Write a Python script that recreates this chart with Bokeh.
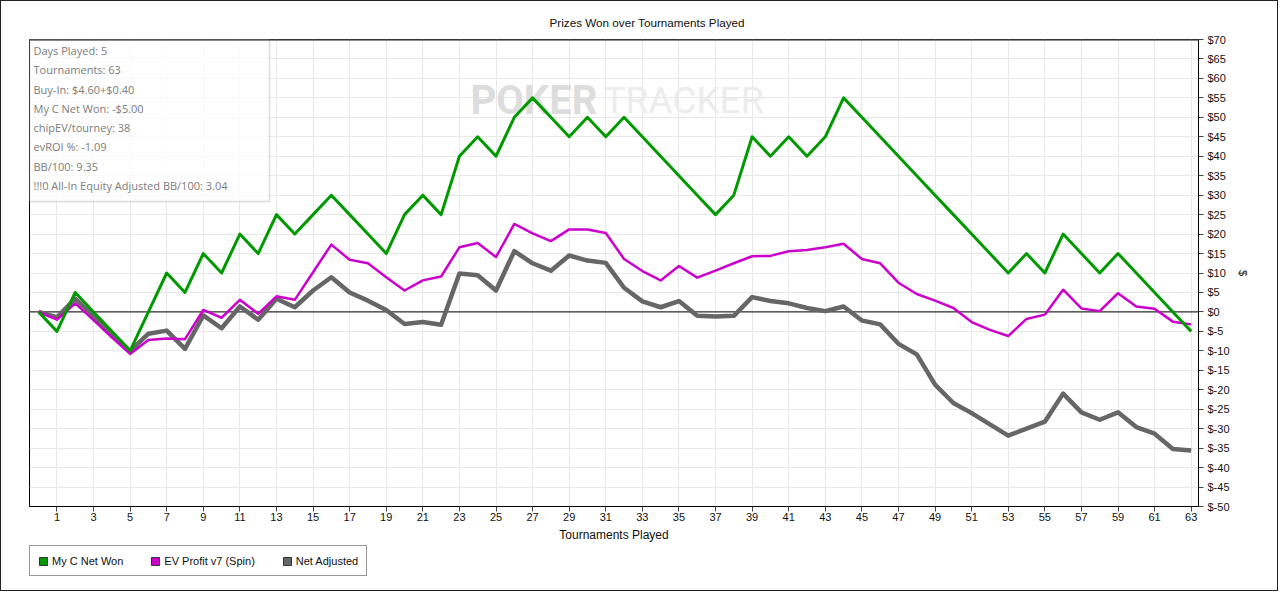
from bokeh.plotting import figure
from bokeh.layouts import column
from bokeh.models import (Range1d, FixedTicker, Span, Label, BoxAnnotation,
                          Legend, LegendItem)
from bokeh.embed import file_html
from bokeh.resources import INLINE

# ---------------- data ----------------
tournaments = list(range(64))

my_c_net_won = [0, -5, 5, 0, -5, -10, 0, 10, 5, 15,
                10, 20, 15, 25, 20, 25, 30, 25, 20, 15,
                25, 30, 25, 40, 45, 40, 50, 55, 50, 45,
                50, 45, 50, 45, 40, 35, 30, 25, 30, 45,
                40, 45, 40, 45, 55, 50, 45, 40, 35, 30,
                25, 20, 15, 10, 15, 10, 20, 15, 10, 15,
                10, 5, 0, -5]

ev_profit = [0, -2.0, 2.2, -2.1, -6.5, -10.8, -7.2, -6.8, -7.0, 0.5,
             -1.5, 3.1, -0.5, 4.0, 3.1, 10.2, 17.3, 13.4, 12.5, 8.9,
             5.5, 8.1, 9.1, 16.6, 17.7, 14.1, 22.6, 20.2, 18.2, 21.2,
             21.2, 20.3, 13.6, 10.5, 8.1, 11.8, 8.8, 10.6, 12.5, 14.3,
             14.4, 15.6, 15.9, 16.6, 17.5, 13.6, 12.5, 7.5, 4.6, 2.9,
             1.0, -2.6, -4.6, -6.2, -1.8, -0.7, 5.7, 0.9, 0.2, 4.8,
             1.4, 0.8, -2.5, -3.2]

net_adjusted = [0, -1.4, 3.4, -1.1, -5.6, -10.1, -5.6, -4.8, -9.5, -0.9,
                -4.2, 1.4, -2.0, 3.4, 1.2, 5.5, 8.9, 5.0, 2.9, 0.5,
                -3.1, -2.6, -3.3, 9.9, 9.4, 5.5, 15.6, 12.5, 10.6, 14.5,
                13.2, 12.6, 6.2, 2.7, 1.2, 2.8, -1.0, -1.2, -1.0, 3.8,
                2.8, 2.2, 1.0, 0.2, 1.4, -2.2, -3.2, -8.2, -10.9, -18.7,
                -23.4, -26.0, -28.9, -31.8, -30.0, -28.2, -21.0, -25.8, -27.7, -25.8,
                -29.6, -31.3, -35.2, -35.6]

series_names = ["My C Net Won", "EV Profit v7 (Spin)", "Net Adjusted"]
series_colors = ["#009a00", "#cc00cc", "#666666"]

x_ticks = list(range(1, 64, 2))
y_ticks = list(range(-50, 71, 5))
y_tick_labels = {v: f"${v}" for v in y_ticks}

title_text = "Prizes Won over Tournaments Played"
x_label = "Tournaments Played"
y_label = "$"

info_lines = ["Days Played: 5",
              "Tournaments: 63",
              "Buy-In: $4.60+$0.40",
              "My C Net Won: -$5.00",
              "chipEV/tourney: 38",
              "evROI %: -1.09",
              "BB/100: 9.35",
              "!!!0 All-In Equity Adjusted BB/100: 3.04"]

FONT = "Liberation Sans"
BORDER = "1px solid #222"

# ---------------- main figure ----------------
p = figure(width=1278, height=545,
           x_range=Range1d(-0.5, 63.4), y_range=Range1d(-50, 70),
           y_axis_location="right",
           output_backend="svg", toolbar_location=None,
           min_border_left=28, min_border_right=81,
           min_border_top=38, min_border_bottom=40)
p.styles = {"border": BORDER, "border-bottom": "none"}
p.background_fill_color = "white"
p.border_fill_color = "white"
p.outline_line_color = "black"
p.outline_line_width = 1

# title
p.title.text = title_text
p.title.align = "left"
p.title.offset = 520
p.title.standoff = 22
p.title.text_font = FONT
p.title.text_font_size = "11.7px"
p.title.text_font_style = "normal"
p.title.text_color = "#111111"

# axes
xa = p.xaxis[0]
xa.ticker = FixedTicker(ticks=x_ticks)
xa.axis_label = x_label
xa.axis_label_text_font = FONT
xa.axis_label_text_font_size = "12px"
xa.axis_label_text_font_style = "normal"
xa.axis_label_text_color = "#111111"
xa.axis_label_standoff = 4
xa.major_label_text_font = FONT
xa.major_label_text_font_size = "11px"
xa.major_label_text_color = "#111111"
xa.major_label_standoff = 1
xa.major_tick_in = 0
xa.major_tick_out = 5
xa.minor_tick_out = 0
xa.minor_tick_in = 0
xa.axis_line_color = "black"
xa.major_tick_line_color = "#444444"

ya = p.yaxis[0]
ya.ticker = FixedTicker(ticks=y_ticks)
ya.major_label_overrides = y_tick_labels
ya.axis_label = y_label
ya.axis_label_text_font = FONT
ya.axis_label_text_font_size = "11px"
ya.axis_label_text_font_style = "normal"
ya.axis_label_text_color = "#111111"
ya.axis_label_standoff = 4
ya.major_label_text_font = FONT
ya.major_label_text_font_size = "11px"
ya.major_label_text_color = "#111111"
ya.major_label_standoff = 4
ya.major_tick_in = 0
ya.major_tick_out = 5
ya.minor_tick_out = 0
ya.minor_tick_in = 0
ya.axis_line_color = "black"
ya.major_tick_line_color = "#444444"

p.xgrid.grid_line_color = "#e8e8e8"
p.ygrid.grid_line_color = "#e8e8e8"

# watermark
p.add_layout(Label(x=441, y=406, x_units="screen", y_units="screen",
                   text="POKER", text_font="Roboto", text_font_size="40px",
                   text_font_style="bold", text_color="#dddddd",
                   text_baseline="alphabetic", level="underlay"))
p.add_layout(Label(x=574, y=406, x_units="screen", y_units="screen",
                   text="TRACKER", text_font="Roboto", text_font_size="37px",
                   text_color="#ececec",
                   text_baseline="alphabetic", level="underlay"))

# zero line
p.add_layout(Span(location=0, dimension="width", line_color="black",
                  line_width=1, level="underlay"))

# series
series_values = [my_c_net_won, ev_profit, net_adjusted]
widths = [3, 2.5, 4.5]
for idx in [2, 1, 0]:
    p.line(tournaments, series_values[idx], line_color=series_colors[idx],
           line_width=widths[idx], line_join="round")

# top border of plot area
p.add_layout(Span(location=70, dimension="width", line_color="#666666",
                  line_width=2.5, level="overlay"))

# info box
p.add_layout(BoxAnnotation(left=0, right=240, top=467, bottom=305,
                           left_units="screen", right_units="screen",
                           top_units="screen", bottom_units="screen",
                           fill_color="white", fill_alpha=0.75,
                           line_color="#888888", line_width=1.5,
                           level="annotation"))
line_centers = [50, 69.3, 88.5, 107.8, 127.1, 146.4, 165.7, 185]
for txt, yc in zip(info_lines, line_centers):
    p.add_layout(Label(x=4, y=506 - yc, x_units="screen", y_units="screen",
                       text=txt, text_font="Open Sans", text_font_size="11px",
                       text_color="#7c7c7c", text_baseline="middle"))

# ---------------- legend strip ----------------
p2 = figure(width=1278, height=46, x_range=Range1d(0, 1), y_range=Range1d(0, 1),
            x_axis_location=None, y_axis_location=None, title=None,
            output_backend="svg", toolbar_location=None, min_border=0)
p2.styles = {"border": BORDER, "border-top": "none"}
p2.outline_line_color = None
p2.background_fill_color = "white"
p2.border_fill_color = "white"
p2.grid.visible = False

nan = float("nan")
items = []
for name, col in zip(series_names, series_colors):
    r = p2.quad(left=[nan], right=[nan], top=[nan], bottom=[nan],
                fill_color=col, line_color="#333333", line_width=1)
    items.append(LegendItem(label=name, renderers=[r]))
legend = Legend(items=items, location=(0, 15), orientation="horizontal",
                glyph_width=10, glyph_height=10, label_height=13,
                label_standoff=4, spacing=27, padding=8, margin=0,
                label_text_font=FONT, label_text_font_size="11px",
                label_text_color="#111111",
                border_line_color="#333333", border_line_width=1.5,
                background_fill_color="white", background_fill_alpha=1)
p2.add_layout(legend, "center")

layout = column(p, p2, spacing=0)
open("out.html", "w").write(file_html(layout, INLINE))
